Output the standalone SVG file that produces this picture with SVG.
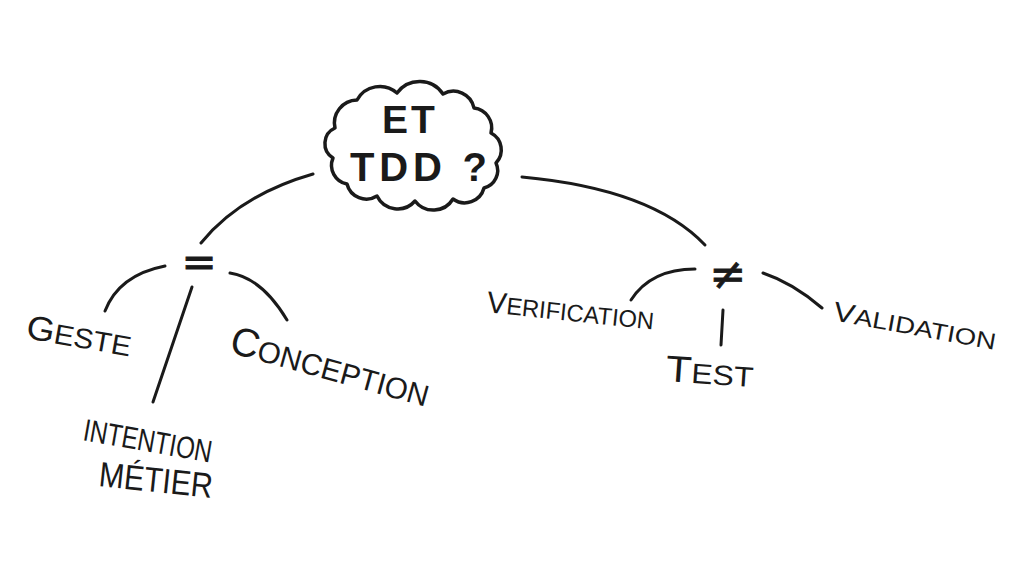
<svg xmlns="http://www.w3.org/2000/svg" width="1024" height="576" viewBox="0 0 1024 576">
<style>
.lbl { font-family: "Liberation Sans", Arial, sans-serif; fill: #1a1a1a; }
.sym { font-family: "DejaVu Sans", sans-serif; fill: #1a1a1a; stroke: #1a1a1a; stroke-width: 0.8; }
.conn { fill: none; stroke: #1a1a1a; stroke-width: 3; stroke-linecap: round; }
.cloud { fill: #ffffff; stroke: #1a1a1a; stroke-width: 3.5; stroke-linejoin: round; }
</style>
<rect width="1024" height="576" fill="#ffffff"/>
<g id="connectors">
  <path class="conn" d="M313,174 Q240,195 201,243"/>
  <path class="conn" d="M522,177 Q652,189 705,245"/>
  <path class="conn" d="M165,266 Q119,275 105,311"/>
  <path class="conn" d="M230,273 Q262,278 287,320"/>
  <path class="conn" d="M192,287 L153,402"/>
  <path class="conn" d="M695,269 Q651,269 631,300"/>
  <path class="conn" d="M763,273 Q793,283 822,308"/>
  <path class="conn" d="M723,310 L721,345"/>
</g>
<g id="node-tdd">
  <path class="cloud" d="M335,128 A23,23 0 0 1 357,100 A26,26 0 0 1 397,93 A28,28 0 0 1 443,94 A21,21 0 0 1 474,108 A20,20 0 0 1 491,133 A19,19 0 0 1 496,163 A18,18 0 0 1 484,188 A20,20 0 0 1 453,199 A23,23 0 0 1 415,201 A23,23 0 0 1 377,196 A20,20 0 0 1 347,184 A19,19 0 0 1 333,158 A17,17 0 0 1 335,128 Z"/>
  <text class="lbl" x="410" y="133" font-size="39" font-weight="bold" text-anchor="middle" letter-spacing="3">ET</text>
  <text class="lbl" x="350" y="181" font-size="40" font-weight="bold" textLength="137" lengthAdjust="spacing">TDD ?</text>
</g>
<g id="node-equal">
  <text class="sym" x="199" y="276" font-size="42" text-anchor="middle">=</text>
</g>
<g id="node-notequal">
  <text class="sym" x="728" y="289" font-size="44" text-anchor="middle">≠</text>
</g>
<g id="node-geste">
  <text class="lbl" transform="translate(25,338) rotate(10)" textLength="106" lengthAdjust="spacingAndGlyphs"><tspan font-size="34">G</tspan><tspan font-size="28">ESTE</tspan></text>
</g>
<g id="node-conception">
  <text class="lbl" transform="translate(228,352) rotate(15.5)" textLength="205" lengthAdjust="spacingAndGlyphs"><tspan font-size="40">C</tspan><tspan font-size="30">ONCEPTION</tspan></text>
</g>
<g id="node-intention">
  <text class="lbl" transform="translate(82,440) rotate(10)" font-size="31" textLength="130" lengthAdjust="spacingAndGlyphs">INTENTION</text>
  <text class="lbl" transform="translate(98,486) rotate(6)" font-size="35" textLength="114" lengthAdjust="spacingAndGlyphs">MÉTIER</text>
</g>
<g id="node-verification">
  <text class="lbl" transform="translate(486,312) rotate(6)" textLength="168" lengthAdjust="spacingAndGlyphs"><tspan font-size="30">V</tspan><tspan font-size="24">ERIFICATION</tspan></text>
</g>
<g id="node-test">
  <text class="lbl" transform="translate(665,381) rotate(4)" textLength="88" lengthAdjust="spacingAndGlyphs"><tspan font-size="37">T</tspan><tspan font-size="28">EST</tspan></text>
</g>
<g id="node-validation">
  <text class="lbl" transform="translate(832,320) rotate(10.4)" textLength="165" lengthAdjust="spacingAndGlyphs"><tspan font-size="27">V</tspan><tspan font-size="23">ALIDATION</tspan></text>
</g>
</svg>
